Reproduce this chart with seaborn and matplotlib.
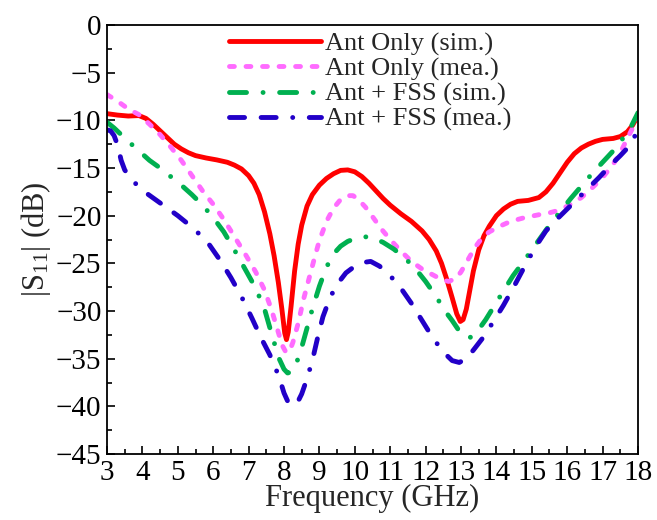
import matplotlib
matplotlib.use("Agg")
import matplotlib.pyplot as plt
import seaborn as sns
import pandas as pd
from matplotlib.ticker import MultipleLocator

# ---- data ----
f_ant_sim = [3.0, 3.3, 3.6, 3.9, 4.1, 4.3, 4.5, 4.7, 4.9, 5.1, 5.3, 5.5, 5.8, 6.1, 6.4, 6.6, 6.8, 7.0,
             7.15, 7.3, 7.45, 7.6, 7.72, 7.84, 7.94, 8.02, 8.07, 8.12, 8.2, 8.3, 8.4, 8.5, 8.65, 8.8,
             9.0, 9.2, 9.4, 9.6, 9.8, 10.0, 10.2, 10.4, 10.6, 10.8, 11.0, 11.3, 11.6, 11.9, 12.1, 12.3,
             12.45, 12.6, 12.75, 12.88, 12.98, 13.06, 13.15, 13.25, 13.35, 13.5, 13.65, 13.8, 14.0,
             14.2, 14.4, 14.6, 14.9, 15.2, 15.4, 15.6, 15.8, 16.0, 16.2, 16.4, 16.6, 16.8, 17.0, 17.3,
             17.5, 17.7, 17.85, 18.0]
s_ant_sim = [-9.3, -9.45, -9.55, -9.5, -9.8, -10.4, -11.1, -11.8, -12.5, -13.0, -13.4, -13.7, -13.95,
             -14.15, -14.4, -14.7, -15.1, -15.8, -16.6, -17.8, -19.6, -21.9, -24.2, -27.0, -29.8, -32.3,
             -33.0, -32.2, -29.5, -25.8, -23.0, -21.0, -19.0, -17.8, -16.8, -16.1, -15.6, -15.25, -15.2,
             -15.4, -15.9, -16.6, -17.4, -18.2, -18.9, -19.8, -20.6, -21.6, -22.5, -23.7, -25.0, -26.7,
             -28.6, -30.3, -31.1, -30.9, -29.8, -27.8, -25.8, -23.6, -22.1, -21.1, -20.0, -19.3, -18.8,
             -18.5, -18.4, -18.1, -17.5, -16.6, -15.5, -14.4, -13.5, -12.9, -12.5, -12.2, -12.0, -11.9,
             -11.7, -11.2, -10.5, -9.5]

f_ant_mea = [3.0, 3.3, 3.6, 3.9, 4.2, 4.5, 4.8, 5.1, 5.4, 5.7, 6.0, 6.3, 6.6, 6.9, 7.2, 7.45, 7.65, 7.82,
             7.95, 8.05, 8.15, 8.25, 8.4, 8.55, 8.7, 8.85, 9.0, 9.2, 9.4, 9.6, 9.8, 9.95, 10.1, 10.3,
             10.5, 10.75, 11.0, 11.3, 11.6, 11.9, 12.2, 12.45, 12.65, 12.85, 13.0, 13.2, 13.4, 13.6,
             13.8, 14.1, 14.4, 14.8, 15.2, 15.5, 15.8, 16.1, 16.4, 16.7, 17.0, 17.3, 17.5, 17.7, 17.85,
             18.0]
s_ant_mea = [-7.3, -8.0, -8.8, -9.4, -10.4, -11.5, -12.8, -14.2, -15.8, -17.4, -18.8, -20.4, -22.2,
             -24.0, -25.9, -27.8, -29.9, -32.0, -33.6, -34.3, -34.3, -33.3, -31.3, -28.8, -26.7, -24.6,
             -22.6, -20.6, -19.2, -18.3, -17.9, -17.9, -18.3, -19.1, -20.1, -21.4, -22.5, -23.7, -24.8,
             -25.6, -26.2, -26.7, -26.9, -26.6, -25.9, -24.6, -23.3, -22.3, -21.7, -21.1, -20.6, -20.2,
             -19.9, -19.7, -19.4, -18.8, -18.1, -17.1, -16.0, -14.6, -13.4, -11.9, -10.8, -9.8]

f_fss_sim = [3.0, 3.2, 3.4, 3.6, 3.9, 4.2, 4.5, 4.8, 5.1, 5.4, 5.7, 6.0, 6.3, 6.6, 6.9, 7.2, 7.45, 7.65,
             7.85, 8.0, 8.1, 8.22, 8.35, 8.5, 8.65, 8.8, 9.0, 9.2, 9.4, 9.6, 9.8, 10.0, 10.25, 10.5,
             10.8, 11.1, 11.4, 11.7, 12.0, 12.3, 12.55, 12.75, 12.95, 13.1, 13.25, 13.45, 13.7, 13.95,
             14.2, 14.47, 14.75, 15.0, 15.25, 15.5, 15.8, 16.1, 16.4, 16.7, 17.0, 17.3, 17.55, 17.8,
             18.0]
s_fss_sim = [-10.2, -10.8, -11.5, -12.2, -13.2, -14.2, -15.0, -15.9, -16.8, -17.8, -18.9, -20.2, -21.7,
             -23.6, -25.6, -27.6, -29.8, -32.4, -34.9, -36.1, -36.5, -36.4, -35.5, -33.8, -31.8, -29.8,
             -27.4, -25.4, -24.0, -23.2, -22.7, -22.4, -22.2, -22.3, -22.8, -23.5, -24.4, -25.5, -26.9,
             -28.5, -30.0, -31.0, -32.1, -32.7, -32.8, -32.2, -30.9, -29.4, -27.9, -26.3, -24.9, -23.6,
             -22.3, -21.0, -19.6, -18.2, -16.9, -15.6, -14.4, -13.2, -12.0, -10.7, -9.2]

f_fss_mea = [3.0, 3.1, 3.2, 3.3, 3.4, 3.5, 3.65, 3.85, 4.1, 4.4, 4.7, 5.0, 5.3, 5.6, 5.9, 6.2, 6.5, 6.8,
             7.1, 7.35, 7.6, 7.85, 8.0, 8.12, 8.25, 8.38, 8.5, 8.65, 8.8, 8.95, 9.1, 9.3, 9.5, 9.75,
             10.0, 10.25, 10.45, 10.7, 11.0, 11.3, 11.6, 11.9, 12.2, 12.5, 12.75, 12.95, 13.15, 13.35,
             13.6, 13.9, 14.2, 14.5, 14.8, 15.1, 15.4, 15.7, 16.0, 16.3, 16.6, 16.9, 17.2, 17.5, 17.78,
             18.0]
s_fss_mea = [-11.0, -11.1, -11.6, -12.6, -14.2, -15.2, -16.0, -16.8, -17.6, -18.4, -19.2, -20.0, -20.9,
             -21.9, -23.1, -24.7, -26.5, -28.5, -30.8, -32.8, -34.6, -36.8, -38.6, -39.6, -39.9, -39.6,
             -38.7, -37.1, -35.2, -32.8, -30.6, -28.6, -27.2, -26.0, -25.3, -24.9, -24.8, -25.3, -26.3,
             -27.6, -29.2, -31.0, -32.8, -34.3, -35.2, -35.4, -35.0, -34.1, -32.9, -31.2, -29.4, -27.4,
             -25.3, -23.3, -21.6, -20.4, -19.3, -18.2, -17.1, -16.0, -14.8, -13.7, -12.6, -11.0]

labels = ["Ant Only (sim.)", "Ant Only (mea.)", "Ant + FSS (sim.)", "Ant + FSS (mea.)"]
x_ticks = list(range(3, 19))
y_ticks = list(range(-45, 1, 5))

# ---- styling ----
sns.set_theme(style="ticks")
plt.rcParams["font.family"] = ["Liberation Serif", "DejaVu Serif"]
plt.rcParams["mathtext.fontset"] = "custom"
plt.rcParams["mathtext.rm"] = "Liberation Serif"
plt.rcParams["mathtext.it"] = "Liberation Serif:italic"

series = [
    (f_ant_sim, s_ant_sim, "#ff0000", "-"),
    (f_ant_mea, s_ant_mea, "#ff6bff", (0, (1.0, 2.4))),
    (f_fss_sim, s_fss_sim, "#00b050", (0, (3.5, 3.4, 0.01, 3.4))),
    (f_fss_mea, s_fss_mea, "#2200c8", (0, (3.1, 3.4, 3.1, 3.4, 0.01, 3.4))),
]

fig = plt.figure(figsize=(6.57, 5.2), dpi=100)
ax = fig.add_axes([107 / 657, 1 - 454 / 520, (638 - 107) / 657, (454 - 25) / 520])

for (fx, sy, col, ls), lab in zip(series, labels):
    df = pd.DataFrame({"Frequency": fx, "S11": sy})
    sns.lineplot(data=df, x="Frequency", y="S11", ax=ax, color=col, lw=3.5,
                 estimator=None, sort=False, label=lab)
    line = ax.lines[-1]
    line.set_linestyle(ls)
    line.set_dash_capstyle("round")
    line.set_solid_capstyle("round")
    line.set_solid_joinstyle("round")
    line.set_dash_joinstyle("round")

ax.set_xlim(3, 18)
ax.set_ylim(-45, 0)
ax.set_xticks(x_ticks)
ax.set_yticks(y_ticks)
ax.xaxis.set_minor_locator(MultipleLocator(0.5))
ax.yaxis.set_minor_locator(MultipleLocator(2.5))
ax.tick_params(which="both", direction="in", top=False, right=False, width=1.2,
               labelsize=21, colors="black")
ax.tick_params(which="major", length=6)
ax.tick_params(which="minor", length=3.5)
ax.tick_params(axis="y", which="major", pad=4)
ax.tick_params(axis="x", which="major", pad=4)
for sp in ax.spines.values():
    sp.set_linewidth(1.3)
    sp.set_color("black")

ax.set_xlabel("Frequency (GHz)", fontsize=22, labelpad=-1)
ax.set_ylabel(r"|S$_{11}$| (dB)", fontsize=22, labelpad=2)

leg = ax.legend(loc="upper left", bbox_to_anchor=(0.225, 0.99), frameon=False, fontsize=19,
                handlelength=3.5, handletextpad=0.15, labelspacing=0.05, borderpad=0.1,
                borderaxespad=0.0)
for h in leg.get_lines():
    h.set_linewidth(3.5)
    h.set_dash_capstyle("round")

fig.savefig("out.png", dpi=100)
